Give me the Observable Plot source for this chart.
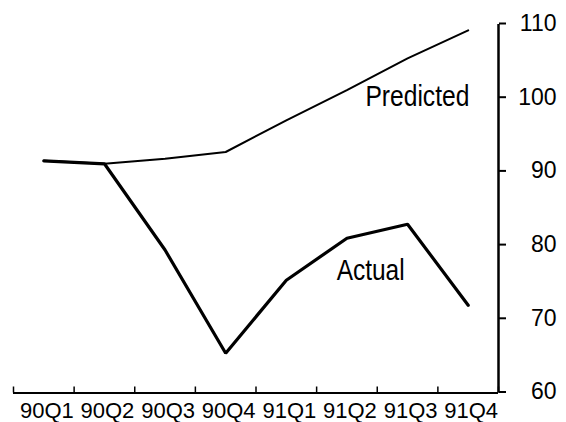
<!DOCTYPE html>
<html>
<head>
<meta charset="utf-8">
<script src="https://cdn.jsdelivr.net/npm/d3@7"></script>
<script src="https://cdn.jsdelivr.net/npm/@observablehq/plot@0.6"></script>
<style>
  html, body { margin: 0; padding: 0; background: white; }
</style>
</head>
<body>
<div id="chart"></div>
<script>
const quarters = ["90Q1", "90Q2", "90Q3", "90Q4", "91Q1", "91Q2", "91Q3", "91Q4"];
const predicted = [91.5, 91.1, 91.8, 92.7, 97.0, 101.1, 105.4, 109.2];
const actual = [91.5, 91.1, 79.4, 65.4, 75.3, 81.0, 82.9, 71.9];
const yTicks = [60, 70, 80, 90, 100, 110];
const seriesLabels = ["Predicted", "Actual"];

const pos = quarters.map((q, i) => i + 0.5);
const predRows = quarters.map((q, i) => ({x: pos[i], y: predicted[i]}));
const actRows = quarters.map((q, i) => ({x: pos[i], y: actual[i]}));

const font = "'Liberation Sans', Arial, sans-serif";

const chart = Plot.plot({
  width: 566,
  height: 422,
  marginTop: 24,
  marginBottom: 29.5,
  marginLeft: 13,
  marginRight: 68,
  x: {domain: [0, quarters.length], axis: null},
  y: {domain: [60, 110], axis: null},
  style: {fontFamily: font, color: "black", background: "white", overflow: "visible"},
  marks: [
    Plot.axisX({ticks: d3.range(0, quarters.length + 1), tickSize: -6, tickFormat: () => "", strokeWidth: 1.5, label: null}),
    Plot.axisX({ticks: pos, tickSize: 0, tickPadding: 9.5, tickFormat: v => quarters[Math.floor(v)], fontSize: 22, dx: 3, label: null}),
    Plot.axisY({anchor: "right", ticks: yTicks, tickSize: 7, tickPadding: 51, textAnchor: "end", fontSize: 23, strokeWidth: 2, dy: -1, label: null}),
    Plot.ruleY([60], {strokeWidth: 2}),
    Plot.ruleX([quarters.length], {y1: 60, y2: 110, strokeWidth: 2.5}),
    Plot.line(predRows, {x: "x", y: "y", stroke: "black", strokeWidth: 2, strokeLinejoin: "miter"}),
    Plot.line(actRows, {x: "x", y: "y", stroke: "black", strokeWidth: 3.2, strokeLinejoin: "miter"}),
    Plot.text([seriesLabels[0]], {x: 7.52, y: 100.2, text: d => d, textAnchor: "end", fontSize: 29}),
    Plot.text([seriesLabels[1]], {x: 5.33, y: 76.6, text: d => d, textAnchor: "start", fontSize: 29})
  ]
});
// condense the two series labels to the narrow face of the original
const targetWidths = {"Predicted": 104, "Actual": 68};
d3.select(chart).selectAll("text").each(function() {
  const t = this.textContent.trim();
  if (targetWidths[t]) {
    d3.select(this).attr("textLength", targetWidths[t]).attr("lengthAdjust", "spacingAndGlyphs");
  }
});
document.getElementById("chart").appendChild(chart);
</script>
</body>
</html>
